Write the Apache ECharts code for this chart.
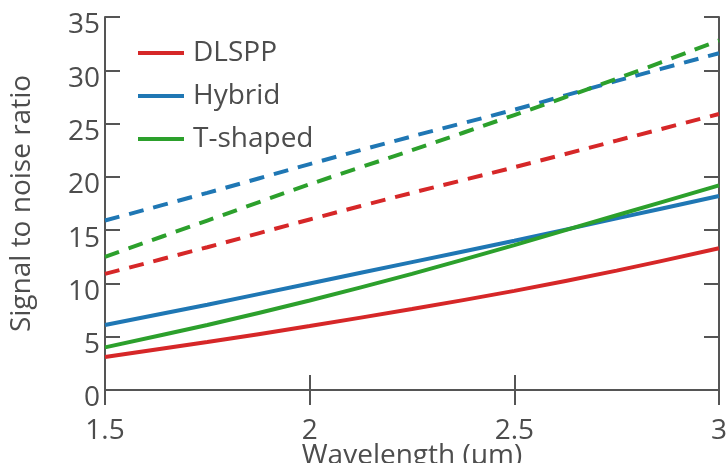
<!DOCTYPE html>
<html>
<head>
<meta charset="utf-8">
<script src="https://cdn.jsdelivr.net/npm/echarts@6.0.0/dist/echarts.min.js"></script>
<style>
  html, body { margin: 0; padding: 0; background: #fff; }
  #chart { width: 728px; height: 463px; }
</style>
</head>
<body>
<div id="chart"></div>
<script>
// wavelength in um
const wavelength = [1.5, 1.75, 2, 2.25, 2.5, 2.75, 3];
const seriesNames = ["DLSPP", "Hybrid", "T-shaped"];
const colors = ["#d62728", "#1f77b4", "#2ca02c"];

// solid curves
const dlsppSolid = [3.1, 4.5, 6.0, 7.6, 9.3, 11.2, 13.3];
const hybridSolid = [6.1, 8.0, 10.0, 12.0, 14.0, 16.1, 18.2];
const tshapedSolid = [4.0, 6.1, 8.4, 10.9, 13.6, 16.4, 19.2];

// dashed curves
const dlsppDash = [10.9, 13.4, 16.0, 18.5, 20.9, 23.4, 25.9];
const hybridDash = [15.9, 18.5, 21.2, 23.8, 26.3, 29.0, 31.6];
const tshapedDash = [12.5, 15.9, 19.3, 22.5, 25.8, 29.2, 32.8];

const textColor = "#4d4d4d";
const axisColor = "#555";
const font = "'Open Sans', 'Noto Sans', sans-serif";

const pairs = (ys) => wavelength.map((x, i) => [x, ys[i]]);

const solid = [dlsppSolid, hybridSolid, tshapedSolid];
const dashed = [dlsppDash, hybridDash, tshapedDash];

const series = [];
dashed.forEach((ys, i) => {
  series.push({
    name: seriesNames[i] + " (dashed)",
    type: "line",
    data: pairs(ys),
    smooth: 0.3,
    showSymbol: false,
    lineStyle: { color: colors[i], width: 4, type: [15, 10] },
    itemStyle: { color: colors[i] },
  });
});
solid.forEach((ys, i) => {
  series.push({
    name: seriesNames[i],
    type: "line",
    data: pairs(ys),
    smooth: 0.3,
    showSymbol: false,
    lineStyle: { color: colors[i], width: 4 },
    itemStyle: { color: colors[i] },
  });
});

const chart = echarts.init(document.getElementById("chart"), null, { renderer: "canvas" });

const axisLine = { show: true, lineStyle: { color: axisColor, width: 2 } };
const axisTick = { show: true, inside: true, length: 15, lineStyle: { color: axisColor, width: 2 } };

chart.setOption({
  animation: false,
  backgroundColor: "#fff",
  grid: { left: 105, right: 9, top: 17, bottom: 73, outerBoundsMode: "none" },
  legend: {
    data: seriesNames,
    orient: "vertical",
    left: 133,
    top: 34,
    itemWidth: 46,
    itemHeight: 4,
    itemGap: 15,
    icon: "rect",
    textStyle: { fontSize: 28, color: textColor, fontFamily: font, padding: [0, 0, 0, 4] },
  },
  xAxis: [
    {
      type: "value",
      min: 1.5,
      max: 3,
      interval: 0.5,
      name: "Wavelength (μm)",
      nameLocation: "middle",
      nameGap: 52,
      nameMoveOverlap: false,
      nameTextStyle: { fontSize: 28, color: textColor, fontFamily: font },
      axisLine: axisLine,
      axisTick: axisTick,
      splitLine: { show: false },
      axisLabel: {
        margin: 22,
        formatter: (v) => "{v|" + v + "}",
        rich: {
          v: { fontSize: 28, color: textColor, fontFamily: font, padding: [5, 0, 0, 0] },
        },
      },
    },
    {
      type: "value",
      position: "top",
      min: 1.5,
      max: 3,
      interval: 0.5,
      axisLine: axisLine,
      axisTick: axisTick,
      axisLabel: { show: false },
      splitLine: { show: false },
    },
  ],
  yAxis: [
    {
      type: "value",
      min: 0,
      max: 35,
      interval: 5,
      name: "Signal to noise ratio",
      nameLocation: "middle",
      nameGap: 69,
      nameMoveOverlap: false,
      nameTextStyle: { fontSize: 28, color: textColor, fontFamily: font },
      axisLine: axisLine,
      axisTick: axisTick,
      splitLine: { show: false },
      axisLabel: {
        margin: 5,
        formatter: (v) => "{v|" + v + "}",
        rich: {
          v: { fontSize: 28, color: textColor, fontFamily: font, padding: [17, 0, 0, 0] },
        },
      },
    },
    {
      type: "value",
      position: "right",
      min: 0,
      max: 35,
      interval: 5,
      axisLine: axisLine,
      axisTick: axisTick,
      axisLabel: { show: false },
      splitLine: { show: false },
    },
  ],
  series: series,
});
</script>
</body>
</html>
